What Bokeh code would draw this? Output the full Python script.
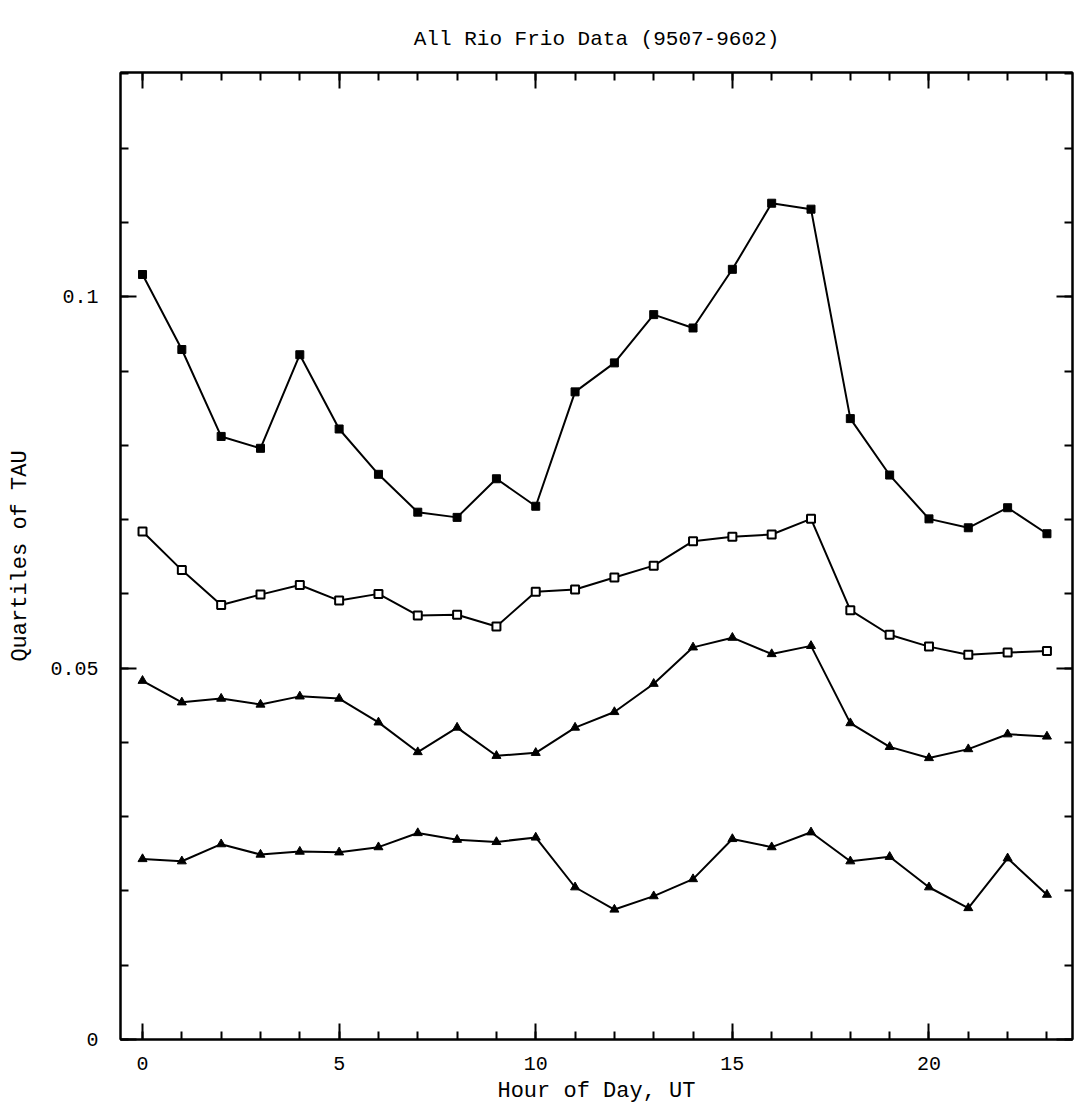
from bokeh.plotting import figure
from bokeh.models import LinearAxis, SingleIntervalTicker, Title, CustomJSTickFormatter
from bokeh.embed import file_html
from bokeh.resources import INLINE

hours = list(range(24))

q_top = [0.1030, 0.0929, 0.0812, 0.0796, 0.0922, 0.0822, 0.0761, 0.0710, 0.0703, 0.0755,
         0.0718, 0.0872, 0.0911, 0.0976, 0.0958, 0.1037, 0.1126, 0.1118, 0.0836, 0.0760,
         0.0701, 0.0689, 0.0716, 0.0681]
q_second = [0.0684, 0.0632, 0.0585, 0.0599, 0.0612, 0.0591, 0.0600, 0.0571, 0.0572, 0.0556,
            0.0603, 0.0606, 0.0622, 0.0638, 0.0671, 0.0677, 0.0680, 0.0701, 0.0578, 0.0545,
            0.0529, 0.0518, 0.0521, 0.0523]
q_third = [0.0483, 0.0454, 0.0459, 0.0451, 0.0462, 0.0459, 0.0427, 0.0387, 0.0420, 0.0382,
           0.0386, 0.0420, 0.0441, 0.0479, 0.0528, 0.0541, 0.0519, 0.0530, 0.0426, 0.0394,
           0.0379, 0.0391, 0.0411, 0.0408]
q_bottom = [0.0243, 0.0240, 0.0263, 0.0249, 0.0253, 0.0252, 0.0259, 0.0278, 0.0269, 0.0266,
            0.0272, 0.0205, 0.0175, 0.0193, 0.0216, 0.0270, 0.0259, 0.0279, 0.0240, 0.0246,
            0.0205, 0.0177, 0.0244, 0.0195]

title_text = "All Rio Frio Data (9507-9602)"
x_label = "Hour of Day, UT"
y_label = "Quartiles of TAU"

FONT = "Liberation Mono"

p = figure(width=1081, height=1106, x_range=(-0.56, 23.65), y_range=(0, 0.1302),
           output_backend="svg", toolbar_location=None,
           min_border_left=120, min_border_right=9, min_border_top=72, min_border_bottom=66)

p.title = Title(text=title_text, align="center", text_font=FONT, text_font_size="21px",
                text_font_style="normal", text_color="black", standoff=44)

p.grid.visible = False
p.outline_line_color = "black"
p.outline_line_width = 2
p.background_fill_color = "white"
p.border_fill_color = "white"

bottom_ax = p.below[0]
left_ax = p.left[0]
bottom_ax.ticker = SingleIntervalTicker(interval=5, num_minor_ticks=5)
left_ax.ticker = SingleIntervalTicker(interval=0.05, num_minor_ticks=5)

blank = CustomJSTickFormatter(code="return '';")
top_ax = LinearAxis(ticker=SingleIntervalTicker(interval=5, num_minor_ticks=5), formatter=blank)
right_ax = LinearAxis(ticker=SingleIntervalTicker(interval=0.05, num_minor_ticks=5), formatter=blank)
p.add_layout(top_ax, "above")
p.add_layout(right_ax, "right")

for ax in [bottom_ax, left_ax, top_ax, right_ax]:
    ax.axis_line_color = "black"
    ax.axis_line_width = 2
    ax.major_tick_in = 16
    ax.major_tick_out = 0
    ax.minor_tick_in = 8
    ax.minor_tick_out = 0
    ax.major_tick_line_width = 2
    ax.minor_tick_line_width = 2
    ax.major_tick_line_color = "black"
    ax.minor_tick_line_color = "black"
    ax.major_label_text_font = FONT
    ax.major_label_text_font_size = "20px"
    ax.major_label_text_color = "black"
    ax.axis_label_text_font = FONT
    ax.axis_label_text_font_size = "22px"
    ax.axis_label_text_font_style = "normal"
    ax.axis_label_text_color = "black"

for ax in [top_ax, right_ax]:
    ax.major_label_standoff = 0

bottom_ax.axis_label = x_label
bottom_ax.major_label_standoff = 17
bottom_ax.axis_label_standoff = 6
left_ax.axis_label = y_label
left_ax.major_label_standoff = 22
left_ax.axis_label_standoff = 14
left_ax.major_label_orientation = "horizontal"

lw = 2
p.line(hours, q_top, line_color="black", line_width=lw)
p.scatter(hours, q_top, marker="square", size=8, fill_color="black", line_color="black")

p.line(hours, q_second, line_color="black", line_width=lw)
p.scatter(hours, q_second, marker="square", size=8, fill_color="white", line_color="black", line_width=2)

p.line(hours, q_third, line_color="black", line_width=lw)
p.scatter(hours, q_third, marker="triangle", size=9, fill_color="black", line_color="black")

p.line(hours, q_bottom, line_color="black", line_width=lw)
p.scatter(hours, q_bottom, marker="triangle", size=9, fill_color="black", line_color="black")

open("out.html", "w").write(file_html(p, INLINE))
